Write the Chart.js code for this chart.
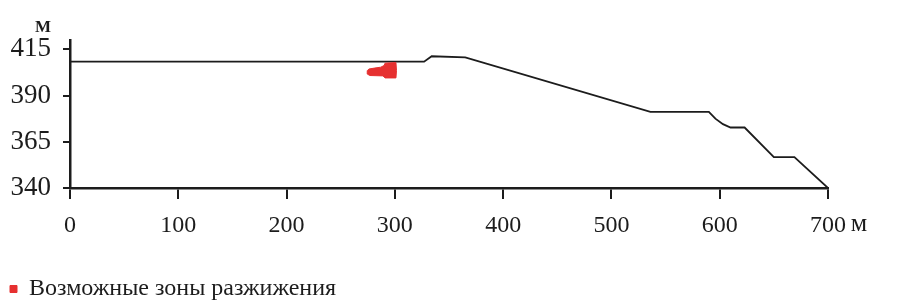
<!DOCTYPE html>
<html>
<head>
<meta charset="utf-8">
<script src="https://cdn.jsdelivr.net/npm/chart.js@4/dist/chart.umd.min.js"></script>
<style>
  html, body { margin: 0; padding: 0; background: #fff; }
  #wrap { width: 922px; height: 305px; }
</style>
</head>
<body>
<div id="wrap"><canvas id="profile"></canvas></div>
<script>
// profile of the slope: distance (m) / elevation (m)
var profileX = [0, 327, 334, 365, 536, 590, 596, 603, 610, 623, 650, 669, 700];
var profileY = [408.3, 408.3, 411.2, 410.6, 381.2, 381.2, 377.5, 374.5, 372.7, 372.7, 356.7, 356.7, 340];

// outline of the possible liquefaction zone
var zoneX = [274.5, 276, 281, 287, 290, 291, 301, 301.5, 301, 291, 289, 277, 274.5, 274.5];
var zoneY = [403.4, 404.3, 404.8, 405.3, 406.2, 407.5, 407.8, 403.5, 399.5, 399.5, 400.6, 400.8, 401.6, 403.4];

var yTicks = [340, 365, 390, 415];
var xTicks = [0, 100, 200, 300, 400, 500, 600, 700];
var legendLabel = 'Возможные зоны разжижения';

function pts(xs, ys) {
    return xs.map(function (x, i) { return { x: x, y: ys[i] }; });
}

var ink = '#1c1c1c';
var serif = '"Liberation Serif", "DejaVu Serif", serif';

var unitLabels = {
    id: 'unitLabels',
    afterDraw: function (chart) {
        var ctx = chart.ctx;
        var xs = chart.scales.x, ys = chart.scales.y;
        ctx.save();
        ctx.fillStyle = ink;
        ctx.textAlign = 'center';
        ctx.textBaseline = 'middle';
        ctx.font = 'bold 17px ' + serif;
        ctx.fillText('М', xs.left - 27, ys.top - 12);
        ctx.font = '26px ' + serif;
        ctx.fillText('м', xs.right + 31, ys.bottom + 36);
        ctx.restore();
    }
};

var ctx = document.getElementById('profile').getContext('2d');
var chart = new Chart(ctx, {
    type: 'scatter',
    data: {
        datasets: [{
            label: legendLabel,
            data: pts(zoneX, zoneY),
            showLine: true,
            fill: 'shape',
            borderColor: '#e63030',
            backgroundColor: '#e63030',
            borderWidth: 1,
            pointRadius: 0
        }, {
            label: 'profile',
            data: pts(profileX, profileY),
            showLine: true,
            fill: false,
            borderColor: ink,
            borderWidth: 1.8,
            pointRadius: 0
        }]
    },
    options: {
        responsive: true,
        maintainAspectRatio: false,
        animation: false,
        layout: { padding: { left: 0, right: 94, top: 40, bottom: -6 } },
        plugins: {
            tooltip: { enabled: false },
            legend: {
                position: 'bottom',
                align: 'start',
                labels: {
                    filter: function (item) { return item.datasetIndex === 0; },
                    boxWidth: 7,
                    boxHeight: 7,
                    color: ink,
                    padding: 10,
                    font: { family: serif, size: 24 }
                }
            }
        },
        scales: {
            x: {
                type: 'linear',
                min: 0,
                max: 700,
                afterBuildTicks: function (s) { s.ticks = xTicks.map(function (v) { return { value: v }; }); },
                afterFit: function (s) { s.height = 79; },
                grid: { drawOnChartArea: false, drawTicks: true, tickLength: 11, color: ink, lineWidth: 2 },
                border: { color: ink, width: 2.5 },
                ticks: { color: ink, padding: 12, maxRotation: 0, font: { family: serif, size: 24 } }
            },
            y: {
                min: 340,
                max: 420,
                afterBuildTicks: function (s) { s.ticks = yTicks.map(function (v) { return { value: v }; }); },
                afterFit: function (s) { s.width = 70; },
                grid: { drawOnChartArea: false, drawTicks: true, tickLength: 7, color: ink, lineWidth: 2 },
                border: { color: ink, width: 2.5 },
                ticks: { color: ink, padding: 12, font: { family: serif, size: 27 } }
            }
        }
    },
    plugins: [unitLabels]
});
</script>
</body>
</html>
